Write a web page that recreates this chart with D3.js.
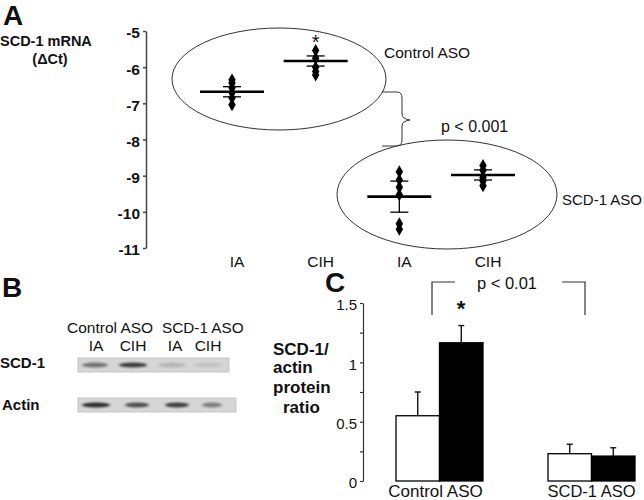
<!DOCTYPE html>
<html><head><meta charset="utf-8">
<script src="https://cdn.jsdelivr.net/npm/d3@7/dist/d3.min.js"></script>
<style>
html,body{margin:0;padding:0;background:#fff;}
svg{display:block;font-family:"Liberation Sans",Arial,sans-serif;}
</style></head>
<body>
<script>
// ---------- Panel A data (SCD-1 mRNA, ΔCt) ----------
const groupsA = ["Control ASO", "SCD-1 ASO"];
const conditionsA = ["IA", "CIH", "IA", "CIH"];
const ctrlIA  = [-6.35, -6.44, -6.57, -6.71, -6.85, -7.04];
const ctrlCIH = [-5.54, -5.75, -6.00, -6.12, -6.22];
const scdIA   = [-8.89, -9.12, -9.32, -9.53, -10.33, -10.48];
const scdCIH  = [-8.72, -8.85, -9.05, -9.15, -9.28];
const meansA  = [-6.68, -5.83, -9.58, -8.98];
const semA    = [0.14, 0.14, 0.43, 0.14];
const ticksA  = [-5, -6, -7, -8, -9, -10, -11];
const pTextA  = "p < 0.001";

// ---------- Panel B data (western blot band intensities) ----------
const blotRows   = ["SCD-1", "Actin"];
const blotLanes  = ["IA", "CIH", "IA", "CIH"];
const scdBands   = [0.55, 0.85, 0.18, 0.1];
const actinBands = [0.95, 0.75, 0.85, 0.5];

// ---------- Panel C data (SCD-1/actin protein ratio) ----------
const groupsC = ["Control ASO", "SCD-1 ASO"];
const seriesC = ["IA", "CIH"];
const valIA   = [0.55, 0.23];
const valCIH  = [1.165, 0.21];
const errIA   = [0.20, 0.08];
const errCIH  = [0.145, 0.07];
const ticksC  = [0, 0.5, 1, 1.5];
const pTextC  = "p < 0.01";

const FONT = "'Liberation Sans',Arial,sans-serif";
const W = 644, H = 500;
const svg = d3.select("body").append("svg").attr("width", W).attr("height", H);
const defs = svg.append("defs");
defs.append("filter").attr("id","blur").attr("x","-50%").attr("y","-100%").attr("width","200%").attr("height","300%")
  .append("feGaussianBlur").attr("stdDeviation","1.6 1.0");

function txt(x, y, s, size, opts = {}) {
  return svg.append("text").attr("x", x).attr("y", y).attr("font-size", size)
    .attr("font-weight", opts.bold ? "bold" : null)
    .attr("text-anchor", opts.anchor || "start").attr("fill", "#111").text(s);
}

// ===================== PANEL A =====================
const yA = d3.scaleLinear().domain([-11, -5]).range([248, 31]);
const xA = d3.scaleLinear().domain([0, 3]).range([232, 483]);

txt(3, 25, "A", 28, {bold: true});
txt(0, 46, "SCD-1 mRNA", 14.5, {bold: true});
txt(50, 64, "(ΔCt)", 14.5, {bold: true, anchor: "middle"});

const axA = svg.append("g").attr("transform", "translate(146,0)")
  .call(d3.axisLeft(yA).tickValues(ticksA).tickSize(3).tickSizeOuter(0).tickFormat(d => String(d)));
axA.select(".domain").attr("stroke", "#444").attr("stroke-width", 1.5);
axA.selectAll(".tick line").attr("stroke", "#444").attr("stroke-width", 1.5);
axA.selectAll(".tick text").attr("font-size", 15.5).attr("font-weight", "bold").attr("font-family", FONT)
  .attr("fill","#111").attr("x", -6).attr("dy", "0.45em");

// ellipses
svg.append("ellipse").attr("cx", 279).attr("cy", 79).attr("rx", 107).attr("ry", 51)
  .attr("fill", "none").attr("stroke", "#333").attr("stroke-width", 1);
svg.append("ellipse").attr("cx", 447).attr("cy", 194.5).attr("rx", 110).attr("ry", 54.5)
  .attr("fill", "none").attr("stroke", "#333").attr("stroke-width", 1);
txt(384, 58, groupsA[0], 15.5);
txt(562, 205, groupsA[1], 15);

// brace
svg.append("path").attr("fill","none").attr("stroke","#333").attr("stroke-width",1)
  .attr("d","M382,92 L397,92 Q402,92 402,98 L402,114 Q402,119 410,120 Q402,121 402,126 L402,140 Q402,146 396,146 L382,146");
txt(441, 132, pTextA, 16);

// points
const allPts = [ctrlIA, ctrlCIH, scdIA, scdCIH];
const diamond = d3.symbol().type(d3.symbolDiamond).size(48);
allPts.forEach((arr, i) => {
  svg.append("g").selectAll("path").data(arr).join("path")
    .attr("d", diamond).attr("transform", d => `translate(${xA(i)},${yA(d)})`).attr("fill", "#000");
});
// means and SEM
meansA.forEach((m, i) => {
  const cx = xA(i);
  svg.append("line").attr("x1", cx - 32).attr("x2", cx + 32).attr("y1", yA(m)).attr("y2", yA(m))
    .attr("stroke", "#000").attr("stroke-width", 2.6);
  svg.append("line").attr("x1", cx).attr("x2", cx).attr("y1", yA(m + semA[i])).attr("y2", yA(m - semA[i]))
    .attr("stroke", "#000").attr("stroke-width", 1.3);
  [m + semA[i], m - semA[i]].forEach(v => {
    svg.append("line").attr("x1", cx - 9).attr("x2", cx + 9).attr("y1", yA(v)).attr("y2", yA(v))
      .attr("stroke", "#000").attr("stroke-width", 1.3);
  });
  txt(cx + 5, 267, conditionsA[i], 15.5, {anchor: "middle"});
});
txt(xA(1), 49, "*", 20, {anchor: "middle"});

// ===================== PANEL B =====================
txt(2, 297, "B", 28, {bold: true});
txt(67, 333, "Control ASO", 15.5);
txt(162, 333, "SCD-1 ASO", 15.3);
const laneX = [96, 133, 175, 208];
blotLanes.forEach((l, i) => txt(laneX[i], 351, l, 15.5, {anchor: "middle"}));
txt(0, 368, blotRows[0], 15, {bold: true});
txt(2, 410, blotRows[1], 15, {bold: true});

function blot(x0, x1, y0, y1, bands, bx, bw) {
  svg.append("rect").attr("x", x0).attr("y", y0).attr("width", x1 - x0).attr("height", y1 - y0)
    .attr("fill", "#d6d6d6").attr("stroke", "#bdbdbd").attr("stroke-width", 0.8);
  const g = svg.append("g").attr("filter", "url(#blur)");
  bands.forEach((v, i) => {
    g.append("ellipse").attr("cx", bx[i]).attr("cy", (y0 + y1) / 2).attr("rx", bw[i]).attr("ry", 2.6)
      .attr("fill", "#000").attr("opacity", v * 0.85);
  });
}
blot(78, 229, 358, 372, scdBands, [95, 133, 172, 208], [13, 14, 14, 15]);
blot(78, 236, 398, 412, actinBands, [96, 137, 177, 212], [14, 12, 12, 10]);

// ===================== PANEL C =====================
txt(325, 292, "C", 28, {bold: true});
const yl = [["SCD-1/", 273, 355], ["actin", 273, 373], ["protein", 273, 393], ["ratio", 283, 413]];
yl.forEach(t => txt(t[1], t[2], t[0], 17, {bold: true}));

const yC = d3.scaleLinear().domain([0, 1.5]).range([481, 303]);
const xC = d3.scalePoint().domain(groupsC).range([439.5, 591.5]);
const xSub = d3.scaleBand().domain(seriesC).range([-43.5, 43.5]).padding(0);

const axC = svg.append("g").attr("transform", "translate(363,0)")
  .call(d3.axisLeft(yC).tickValues(d3.range(0, 1.51, 0.25)).tickSize(3).tickSizeOuter(0)
    .tickFormat(d => ticksC.includes(d) ? d3.format("~g")(d) : ""));
axC.select(".domain").attr("stroke", "#333").attr("stroke-width", 1.2);
axC.selectAll(".tick line").attr("stroke", "#333").attr("stroke-width", 1.2);
axC.selectAll(".tick text").attr("font-size", 15).attr("font-family", FONT).attr("fill","#111").attr("x", -6).attr("dy","0.45em");

const barsData = [];
groupsC.forEach((g, i) => {
  barsData.push({g, s: "IA", v: valIA[i], e: errIA[i]});
  barsData.push({g, s: "CIH", v: valCIH[i], e: errCIH[i]});
});
const bx = d => xC(d.g) + xSub(d.s);
const bc = d => bx(d) + xSub.bandwidth() / 2;
svg.append("g").selectAll("line").data(barsData).join("line")
  .attr("x1", bc).attr("x2", bc)
  .attr("y1", d => yC(d.v)).attr("y2", d => yC(d.v + d.e)).attr("stroke", "#000").attr("stroke-width", 1.3);
svg.append("g").selectAll("line").data(barsData).join("line")
  .attr("x1", d => bc(d) - 3).attr("x2", d => bc(d) + 3)
  .attr("y1", d => yC(d.v + d.e)).attr("y2", d => yC(d.v + d.e)).attr("stroke", "#000").attr("stroke-width", 1.3);
svg.append("g").selectAll("rect").data(barsData).join("rect")
  .attr("x", bx).attr("width", xSub.bandwidth())
  .attr("y", d => yC(d.v)).attr("height", d => yC(0) - yC(d.v))
  .attr("fill", d => d.s === "IA" ? "#fff" : "#000").attr("stroke", "#000").attr("stroke-width", 1.3);

txt(xC(groupsC[0]) - 4, 497, groupsC[0], 17, {anchor: "middle"});
txt(xC(groupsC[1]), 497, groupsC[1], 16.5, {anchor: "middle"});

// significance bracket
svg.append("path").attr("fill","none").attr("stroke","#333").attr("stroke-width",1.2)
  .attr("d","M432,315 L432,282 L455,282 M562,282 L585,282 L585,315");
txt(507, 289, pTextC, 16.5, {anchor: "middle"});
txt(461, 316, "*", 22, {bold: true, anchor: "middle"});
</script>
</body></html>
